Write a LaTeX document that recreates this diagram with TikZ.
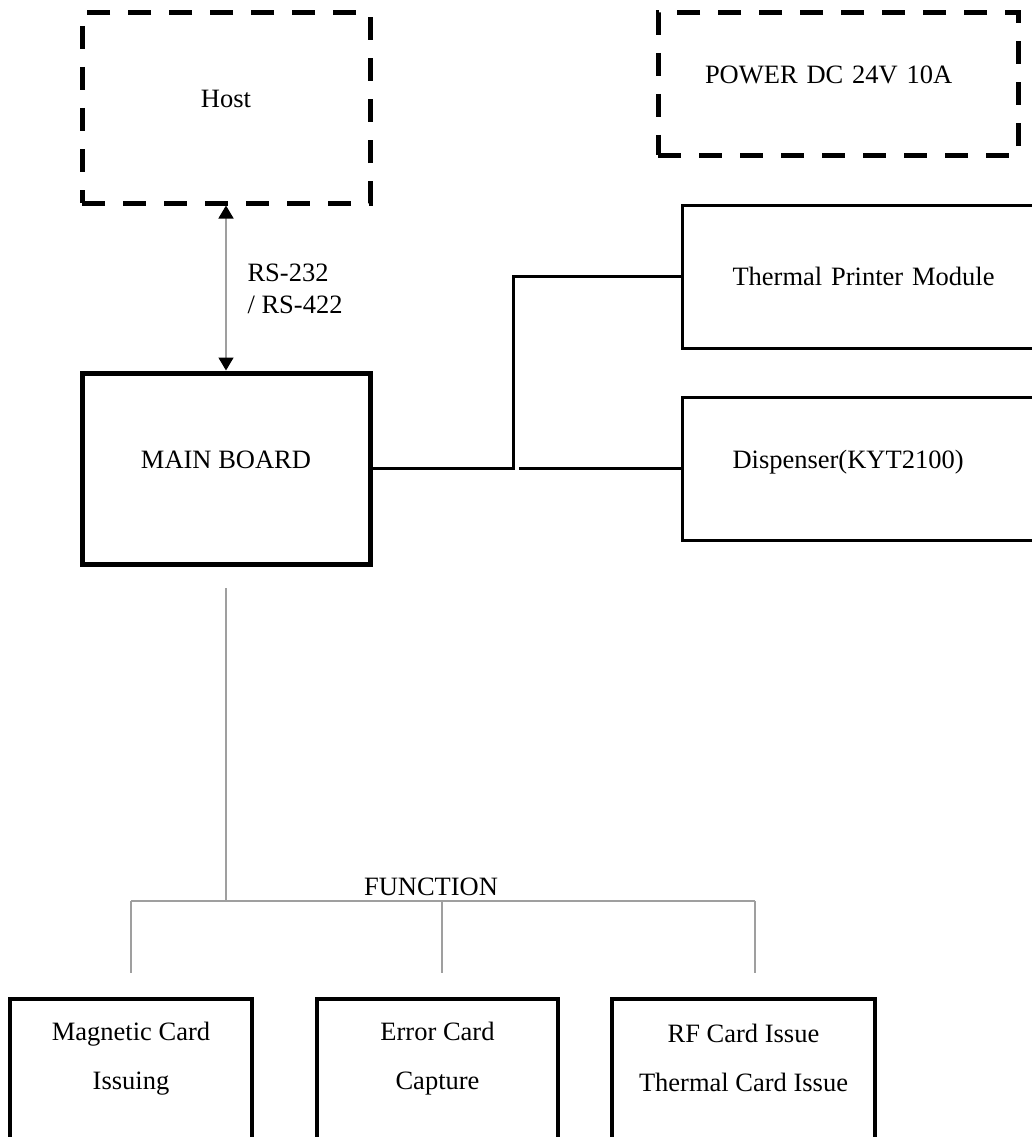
\documentclass[tikz,border=0pt]{standalone}
\usepackage{fontspec}
\setmainfont{Liberation Serif}
\usetikzlibrary{positioning}
\usetikzlibrary{arrows.meta}

\begin{document}
\begin{tikzpicture}[
    x=1pt, y=-1pt,
    every node/.style = {font=\fontsize{26.5}{32}\selectfont},
    dashbox/.style = {draw, line width=5pt, dash pattern=on 23pt off 18pt},
    board/.style = {draw, line width=5pt},
    raised/.style = {text height=18pt, text depth=18pt},
    module/.style = {
        draw, line width=3pt, minimum height=143pt, anchor=west,
        text width=420pt, inner xsep=50pt, align=left
    },
    cardbox/.style = {draw, line width=4pt, minimum height=200pt, anchor=north},
    cardtext/.style = {align=center, font=\fontsize{26.5}{49}\selectfont},
    wire/.style = {line width=3pt},
    thinwire/.style = {line width=1.5pt, draw=gray!75}
]
\useasboundingbox (0,0) rectangle (1032,1137);
\clip (0,0) rectangle (1032,1137);

% top row
\node[dashbox, raised, minimum width=288pt, minimum height=190pt] (host) at (226,108) {Host};
\node[dashbox, raised, minimum height=142pt, text width=266pt, inner xsep=47pt, align=left]
    (power) at (838,84) {POWER DC 24V 10A};

% main board and modules
\node[board, raised, minimum width=288pt, minimum height=191pt] (main) at (226,468.5) {MAIN BOARD};
\node[module] (printer) at (681,276.5) {Thermal Printer Module};
\node[module, raised] (dispenser) at (681,468.5) {Dispenser(KYT2100)};

\draw[thinwire, {Triangle[length=13pt,width=15pt,black]}-{Triangle[length=13pt,width=15pt,black]}]
    (host.south) -- (main.north);
\node[anchor=west, align=left] (link) at (244,289) {RS-232\\/ RS-422};

\coordinate (hop) at (513,468.5);
\coordinate (hopend) at (519,468.5);
\draw[wire] (main.east) -- (hop) |- (printer.west);
\draw[wire] (hopend) -- (dispenser.west);

% function tree
\coordinate (trunk) at (226,588);
\coordinate (busL) at (131,901);
\coordinate (busM) at (442,901);
\coordinate (busR) at (755,901);
\node (function) at (431,887) {FUNCTION};
\draw[thinwire] (trunk) -- (trunk |- busL);
\draw[thinwire] (busL) -- (busR);
\foreach \c in {busL,busM,busR}
    \draw[thinwire] (\c) -- ++(0,72);

\node[cardbox, minimum width=242pt] (magnetic) at (131,997) {};
\node[cardbox, minimum width=241pt] (error) at (437.5,997) {};
\node[cardbox, minimum width=263pt] (rfcard) at (743.5,997) {};
\node[cardtext] (magtext) at (131,1059) {Magnetic Card\\Issuing};
\node[cardtext] (errtext) at (437.5,1059) {Error Card\\Capture};
\node[cardtext] (rftext) at (743.5,1058) {RF Card Issue\\Thermal Card Issue};
\end{tikzpicture}
\end{document}
